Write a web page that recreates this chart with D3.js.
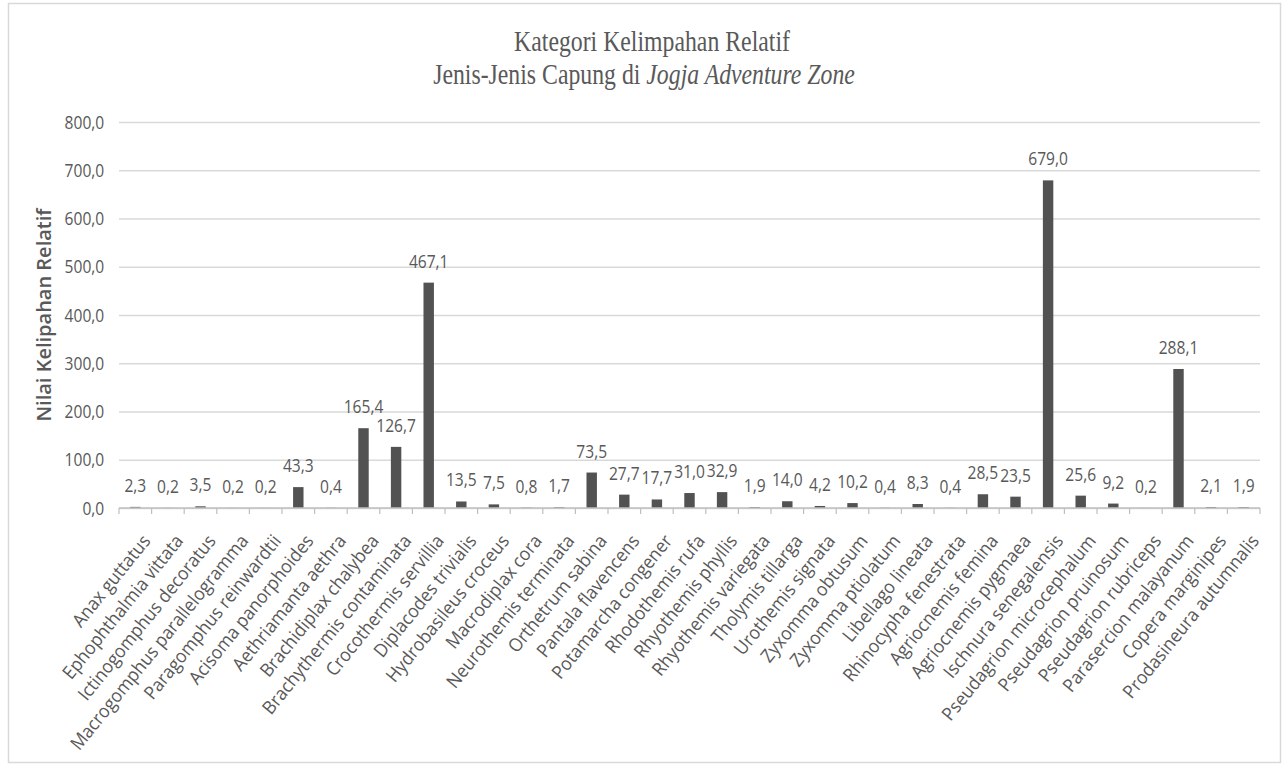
<!DOCTYPE html>
<html>
<head>
<meta charset="utf-8">
<script src="https://cdn.jsdelivr.net/npm/d3@7"></script>
<style>
  body { margin: 0; background: #fff; }
  text { font-family: "Open Sans", sans-serif; }
</style>
</head>
<body>
<div id="chart"></div>
<script>
const species = [
  'Anax guttatus', 'Ephophthalmia vittata', 'Ictinogomphus decoratus', 'Macrogomphus parallelogramma',
  'Paragomphus  reinwardtii', 'Acisoma panorphoides', 'Aethriamanta aethra', 'Brachidiplax chalybea',
  'Brachythermis contaminata', 'Crocothermis servillia', 'Diplacodes trivialis', 'Hydrobasileus croceus',
  'Macrodiplax cora', 'Neurothemis terminata', 'Orthetrum sabina', 'Pantala flavencens',
  'Potamarcha congener', 'Rhodothemis rufa', 'Rhyothemis phyllis', 'Rhyothemis variegata',
  'Tholymis tillarga', 'Urothemis signata', 'Zyxomma obtusum', 'Zyxomma ptiolatum',
  'Libellago lineata', 'Rhinocypha fenestrata', 'Agriocnemis femina', 'Agriocnemis pygmaea',
  'Ischnura senegalensis', 'Pseudagrion microcephalum', 'Pseudagrion pruinosum', 'Pseudagrion rubriceps',
  'Parasercion malayanum', 'Copera marginipes', 'Prodasineura autumnalis'
];
const abundance = [
  2.3, 0.2, 3.5, 0.2, 0.2, 43.3, 0.4, 165.4, 126.7, 467.1, 13.5, 7.5, 0.8, 1.7, 73.5, 27.7, 17.7, 31.0,
  32.9, 1.9, 14.0, 4.2, 10.2, 0.4, 8.3, 0.4, 28.5, 23.5, 679.0, 25.6, 9.2, 0.2, 288.1, 2.1, 1.9
];
const yTicks = [0, 100, 200, 300, 400, 500, 600, 700, 800];

const data = species.map((name, i) => ({ name, value: abundance[i] }));

const width = 1284;
const height = 767;
const plot = { left: 119, right: 1260, top: 122, bottom: 508 };
const squish = 0.82; // picture is a bit narrower than its fonts
const grey = '#595959';

const fmt = d3.formatLocale({ decimal: ',', thousands: '.', grouping: [3], currency: ['', ''] }).format('.1f');

const x = d3.scaleBand()
  .domain(species)
  .range([plot.left, plot.right])
  .paddingInner(0.68)
  .paddingOuter(0.34);
const y = d3.scaleLinear()
  .domain([0, 800])
  .range([plot.bottom, plot.top]);

const svg = d3.select('#chart')
  .append('svg')
    .attr('width', width)
    .attr('height', height);

svg.append('rect')
  .attr('width', width).attr('height', height)
  .attr('fill', '#fff');

// outer chart border
svg.append('rect')
  .attr('x', 8.5).attr('y', 3.5)
  .attr('width', 1272).attr('height', 759)
  .attr('fill', 'none')
  .attr('stroke', '#d9d9d9')
  .attr('stroke-width', 1.5);

// Title
const title = svg.append('g')
  .attr('fill', grey)
  .style('font-size', '29px');
title.append('text')
  .attr('text-anchor', 'middle')
  .attr('transform', `translate(652, 51) scale(${squish}, 1)`)
  .style('font-family', '"Liberation Serif", serif')
  .text('Kategori Kelimpahan Relatif');
const sub = title.append('text')
  .attr('text-anchor', 'middle')
  .attr('transform', `translate(644, 84) scale(${squish}, 1)`)
  .style('font-family', '"Liberation Serif", serif');
sub.append('tspan').text('Jenis-Jenis Capung di ');
sub.append('tspan').style('font-style', 'italic').text('Jogja Adventure Zone');

// Y axis with gridlines
const yAxis = svg.append('g')
  .attr('transform', `translate(${plot.left}, 0)`)
  .call(d3.axisLeft(y)
    .tickValues(yTicks)
    .tickFormat(fmt)
    .tickSize(-(plot.right - plot.left))
    .tickPadding(18));
yAxis.select('.domain').remove();
yAxis.selectAll('.tick line')
  .attr('stroke', '#d9d9d9')
  .attr('stroke-width', 1.5);
yAxis.selectAll('.tick text')
  .attr('fill', grey)
  .style('font-size', '19px')
  .attr('transform', `scale(${squish}, 1)`);

// Y title
svg.append('text')
  .attr('transform', `translate(51, 315) rotate(-90)`)
  .attr('text-anchor', 'middle')
  .attr('fill', grey)
  .style('font-size', '20px')
  .style('font-weight', 600)
  .text('Nilai Kelipahan Relatif');

// Bars
svg.append('g')
  .selectAll('rect')
  .data(data)
  .join('rect')
    .attr('x', d => x(d.name))
    .attr('y', d => y(d.value))
    .attr('width', x.bandwidth())
    .attr('height', d => y(0) - y(d.value))
    .attr('fill', '#525252');

// X axis line and category boundary ticks
const boundaries = d3.range(species.length + 1).map(i => plot.left + i * x.step());
svg.append('line')
  .attr('x1', plot.left).attr('x2', plot.right)
  .attr('y1', y(0)).attr('y2', y(0))
  .attr('stroke', '#bfbfbf')
  .attr('stroke-width', 1.5);
svg.append('g')
  .selectAll('line')
  .data(boundaries)
  .join('line')
    .attr('x1', d => d).attr('x2', d => d)
    .attr('y1', y(0)).attr('y2', y(0) + 6)
    .attr('stroke', '#bfbfbf')
    .attr('stroke-width', 1.2);

// Category labels
svg.append('g')
  .selectAll('text')
  .data(data)
  .join('text')
    .attr('transform', d => `translate(${x(d.name) + x.bandwidth() / 2 + 6}, ${y(0) + 25}) rotate(-51) scale(0.94, 1)`)
    .attr('text-anchor', 'end')
    .attr('dy', '0.71em')
    .attr('fill', grey)
    .style('font-size', '18.5px')
    .text(d => d.name);

// Value labels
svg.append('g')
  .selectAll('text')
  .data(data)
  .join('text')
    .attr('transform', d => `translate(${x(d.name) + x.bandwidth() / 2}, ${y(d.value) - 15}) scale(${squish}, 1)`)
    .attr('text-anchor', 'middle')
    .attr('fill', grey)
    .style('font-size', '19px')
    .text(d => fmt(d.value));
</script>
</body>
</html>
